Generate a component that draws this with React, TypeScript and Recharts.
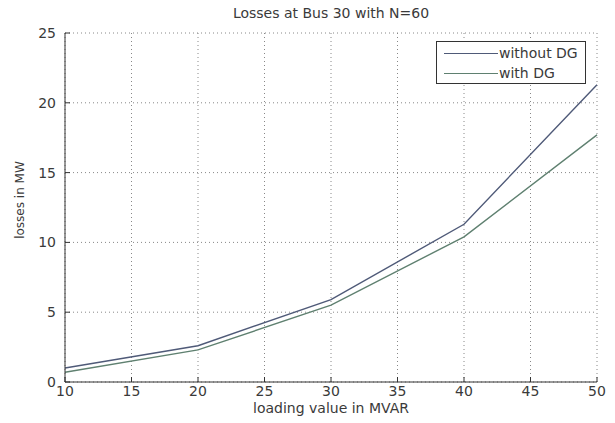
import { LineChart, Line, XAxis, YAxis, CartesianGrid, Legend } from 'recharts';

// loading (MVAR) at which losses were computed
const loading = [10, 20, 30, 40, 50];
const withoutDG = [1.0, 2.6, 5.9, 11.3, 21.3];
const withDG = [0.7, 2.3, 5.5, 10.4, 17.7];

const xTicks = [10, 15, 20, 25, 30, 35, 40, 45, 50];
const yTicks = [0, 5, 10, 15, 20, 25];
const seriesNames = ['without DG', 'with DG'];

const font = '"DejaVu Sans", sans-serif';
const textColor = '#3a3a3a';

function LegendBox({ payload }: any) {
  // keep plot order, legend sorts by name otherwise
  const items = [...(payload || [])].sort(
    (a: any, b: any) => seriesNames.indexOf(a.value) - seriesNames.indexOf(b.value)
  );
  return (
    <div
      style={{
        width: 148,
        height: 41,
        border: '1px solid #333',
        background: '#fff',
        fontFamily: font,
        fontSize: 14,
        color: textColor,
      }}
    >
      {items.map((p: any, i: number) => (
        <div
          key={i}
          style={{ display: 'flex', alignItems: 'center', height: 20, marginTop: i === 0 ? 1 : 0 }}
        >
          <div style={{ marginLeft: 7, width: 54, height: 0, borderTop: `1px solid ${p.color}` }} />
          <span style={{ marginLeft: 1 }}>{p.value}</span>
        </div>
      ))}
    </div>
  );
}

export default function App() {
  const data = loading.map((x, i) => ({
    x,
    without: withoutDG[i],
    with: withDG[i],
  }));

  return (
    <div
      style={{
        position: 'absolute',
        left: 0,
        top: 0,
        width: 615,
        height: 423,
        background: '#fff',
        fontFamily: font,
      }}
    >
      <LineChart width={615} height={423} data={data} margin={{ top: 33, right: 18, bottom: 0, left: 0 }}>
        <CartesianGrid stroke="#888" strokeDasharray="1 3" />
        <XAxis
          dataKey="x"
          type="number"
          domain={[10, 50]}
          ticks={xTicks}
          height={41}
          tickSize={-5}
          tickMargin={9}
          stroke="#333"
          tick={{ fill: textColor, fontSize: 14, fontFamily: font }}
        />
        <XAxis
          xAxisId="top"
          orientation="top"
          type="number"
          domain={[10, 50]}
          ticks={xTicks}
          height={0}
          tickSize={-5}
          tick={false}
          stroke="#333"
        />
        <YAxis
          type="number"
          domain={[0, 25]}
          ticks={yTicks}
          width={65}
          tickSize={-5}
          tickMargin={14}
          stroke="#333"
          tick={{ fill: textColor, fontSize: 14, fontFamily: font }}
        />
        <YAxis
          yAxisId="right"
          orientation="right"
          type="number"
          domain={[0, 25]}
          ticks={yTicks}
          width={0}
          tickSize={-5}
          tick={false}
          stroke="#333"
        />
        <Legend
          layout="vertical"
          align="center"
          verticalAlign="middle"
          content={<LegendBox />}
          wrapperStyle={{ left: 436, top: 41, width: 150, height: 43 }}
        />
        <Line
          type="linear"
          dataKey="without"
          name={seriesNames[0]}
          stroke="#4f5a78"
          strokeWidth={1.4}
          dot={false}
          isAnimationActive={false}
        />
        <Line
          type="linear"
          dataKey="with"
          name={seriesNames[1]}
          stroke="#5f8070"
          strokeWidth={1.4}
          dot={false}
          isAnimationActive={false}
        />
      </LineChart>
      <div
        style={{
          position: 'absolute',
          left: 0,
          width: 662,
          top: 5,
          textAlign: 'center',
          fontSize: 14,
          color: textColor,
        }}
      >
        Losses at Bus 30 with N=60
      </div>
      <div
        style={{
          position: 'absolute',
          left: 0,
          width: 662,
          top: 400,
          textAlign: 'center',
          fontSize: 14,
          color: textColor,
        }}
      >
        loading value in MVAR
      </div>
      <div
        style={{
          position: 'absolute',
          left: 20,
          top: 200,
          transform: 'translate(-50%, -50%) rotate(-90deg)',
          whiteSpace: 'nowrap',
          fontSize: 12,
          color: textColor,
        }}
      >
        losses in MW
      </div>
    </div>
  );
}
